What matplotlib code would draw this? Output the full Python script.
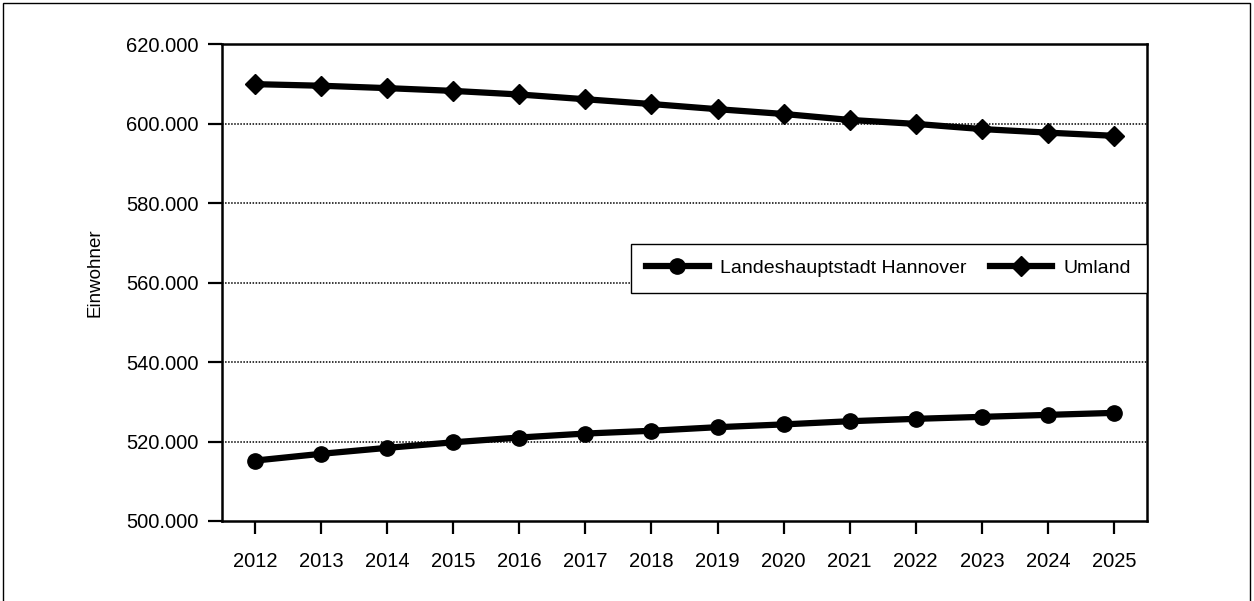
import matplotlib
matplotlib.use("Agg")
import matplotlib.pyplot as plt
from matplotlib.ticker import FuncFormatter, FixedLocator
from matplotlib.patches import Rectangle

years = ["2012", "2013", "2014", "2015", "2016", "2017", "2018",
         "2019", "2020", "2021", "2022", "2023", "2024", "2025"]
hannover = [515200, 516900, 518400, 519800, 521000, 522000, 522700,
            523600, 524300, 525100, 525700, 526200, 526700, 527200]
umland = [609900, 609500, 608900, 608200, 607300, 606100, 604900,
          603600, 602400, 600900, 599900, 598600, 597700, 596900]
label_h = "Landeshauptstadt Hannover"
label_u = "Umland"
y_ticks = [500000, 520000, 540000, 560000, 580000, 600000, 620000]

plt.rcParams['font.family'] = ['Liberation Sans', 'DejaVu Sans']

fig = plt.figure(figsize=(12.54, 6.01), dpi=100)
ax = fig.add_axes([222/1254, 1-521/601, (1147-222)/1254, (521-44)/601])

x = list(range(len(years)))
ax.plot(x, hannover, color='black', lw=4.5, marker='o', markersize=11, label=label_h, zorder=3)
ax.plot(x, umland, color='black', lw=4.5, marker='D', markersize=10.5, label=label_u, zorder=3)

ax.set_xlim(-0.5, len(years) - 0.5)
ax.set_ylim(500000, 620000)
ax.yaxis.set_major_locator(FixedLocator(y_ticks))
ax.yaxis.set_major_formatter(FuncFormatter(lambda v, p: f"{int(v):,}".replace(",", ".")))
ax.set_xticks(x)
ax.set_xticklabels(years)

for v in y_ticks[1:-1]:
    ax.axhline(v, color='black', lw=1.1, ls=(0, (1.0, 1.0)), zorder=1)

for s in ax.spines.values():
    s.set_linewidth(1.8)
    s.set_color('black')

ax.tick_params(axis='both', direction='out', width=1.6, labelsize=14.5, colors='black')
ax.tick_params(axis='y', length=10, pad=7)
ax.tick_params(axis='x', length=9, pad=13)
ax.set_ylabel("Einwohner", fontsize=13.5)
ax.yaxis.set_label_coords(-0.128, 0.52)

leg = ax.legend(loc='center right', bbox_to_anchor=(1.0, 0.53), ncol=2, frameon=True,
                fancybox=False, edgecolor='black', fontsize=14, handlelength=3.2,
                columnspacing=1.2, borderpad=0.8, handletextpad=0.6, borderaxespad=0,
                framealpha=1)
leg.get_frame().set_linewidth(1.0)
leg.set_zorder(5)

fig.patches.append(Rectangle((3/1254, -0.05), 1247/1254, 1.05 - 3/601, transform=fig.transFigure,
                             fill=False, edgecolor='black', lw=1.0))

fig.savefig("out.png", dpi=100)
